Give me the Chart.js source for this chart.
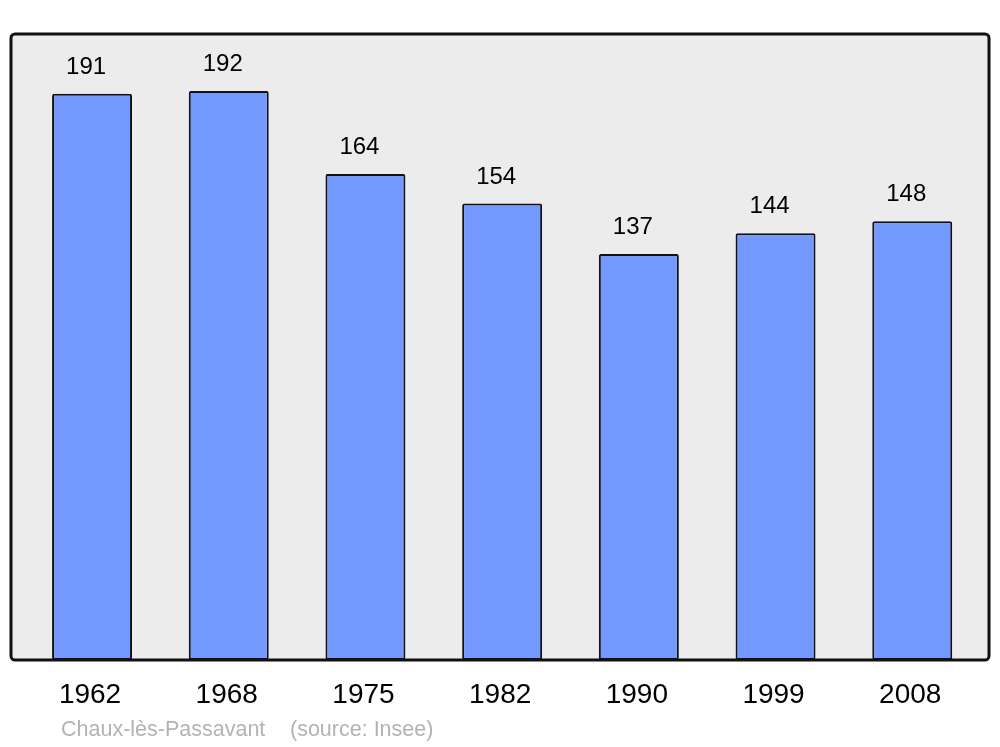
<!DOCTYPE html>
<html>
<head>
<meta charset="utf-8">
<script src="https://cdn.jsdelivr.net/npm/chart.js@4"></script>
<style>
html,body{margin:0;padding:0;background:#fff;}
#wrap{width:1000px;height:747px;position:relative;}
</style>
</head>
<body>
<div id="wrap"><canvas id="c" width="1000" height="747"></canvas></div>
<script>
const years = ["1962","1968","1975","1982","1990","1999","2008"];
const population = [191,192,164,154,137,144,148];
const placeName = "Chaux-lès-Passavant";
const sourceNote = "(source: Insee)";

const framePlugin = {
  id:'frame',
  beforeDraw(chart){
    const ctx = chart.ctx;
    ctx.save();
    ctx.beginPath();
    ctx.roundRect(11,34,978,626,4);
    ctx.fillStyle = '#ececec';
    ctx.fill();
    ctx.restore();
  },
  afterDraw(chart){
    const ctx = chart.ctx;
    const x = chart.scales.x, y = chart.scales.y;
    ctx.save();
    ctx.beginPath();
    ctx.roundRect(11,34,978,626,4);
    ctx.lineWidth = 3;
    ctx.strokeStyle = '#111';
    ctx.stroke();
    ctx.fillStyle = '#000';
    ctx.textAlign = 'center';
    ctx.textBaseline = 'middle';
    ctx.font = '24px "Liberation Sans", Arial, sans-serif';
    population.forEach((v,i)=>{
      ctx.fillText(String(v), x.getPixelForValue(i)-6, y.getPixelForValue(v)-26.5);
    });
    ctx.font = '28px "Liberation Sans", Arial, sans-serif';
    years.forEach((l,i)=>{
      ctx.fillText(l, x.getPixelForValue(i)-2, 695);
    });
    ctx.textAlign = 'left';
    ctx.fillStyle = '#b3b3b3';
    ctx.font = '21.5px "Liberation Sans", Arial, sans-serif';
    ctx.fillText(placeName, 61, 730);
    ctx.fillText(sourceNote, 290, 730);
    ctx.restore();
  }
};

new Chart(document.getElementById('c'), {
  type:'bar',
  data:{
    labels: years,
    datasets:[{
      data: population,
      backgroundColor:'rgb(115,153,255)',
      borderColor:'#111',
      borderWidth:2,
      borderSkipped:false,
      borderRadius:2,
      barPercentage:0.585,
      categoryPercentage:1
    }]
  },
  options:{
    responsive:false,
    animation:false,
    layout:{padding:{left:23.7,right:19.4,top:34,bottom:87}},
    plugins:{legend:{display:false},tooltip:{enabled:false}},
    scales:{
      x:{display:false},
      y:{display:false,min:0,max:211.2}
    }
  },
  plugins:[framePlugin]
});
</script>
</body>
</html>
